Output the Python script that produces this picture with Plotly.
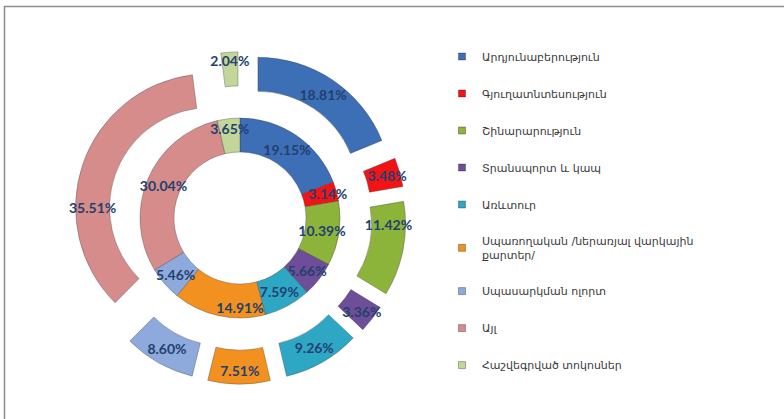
import plotly.graph_objects as go

W, H = 784, 419

categories = [
    'Արդյունաբերություն',
    'Գյուղատնտեսություն',
    'Շինարարություն',
    'Տրանսպորտ և կապ',
    'Առևտուր',
    'Սպառողական /ներառյալ վարկային<br>քարտեր/',
    'Սպասարկման ոլորտ',
    'Այլ',
    'Հաշվեգրված տոկոսներ',
]
outer_values = [18.81, 3.48, 11.42, 3.36, 9.26, 7.51, 8.60, 35.51, 2.04]
inner_values = [19.15, 3.14, 10.39, 5.66, 7.59, 14.91, 5.46, 30.04, 3.65]

colors = ['#3C6FB6', '#F21414', '#8CB33A', '#6E4E98', '#2EA7C4',
          '#F2911F', '#8EA9DB', '#D68C8A', '#C2D69A']

label_font = dict(family='Lato, Open Sans, sans-serif', size=14, color='#22406F')
slice_line = dict(color='rgba(60,60,60,0.35)', width=1)


def px_domain(cx, cy, half):
    '''pixel box (center, half size) -> paper domain'''
    return dict(x=[(cx - half) / W, (cx + half) / W],
                y=[(H - cy - half) / H, (H - cy + half) / H])


fig = go.Figure()

# outer ring, every slice pulled out
pull = 0.24
fig.add_trace(go.Pie(
    values=outer_values, labels=categories, sort=False, direction='clockwise',
    rotation=0, hole=0.746, pull=[pull] * len(outer_values),
    domain=px_domain(240, 218, 134 * (1 + pull)),
    marker=dict(colors=colors, line=slice_line),
    texttemplate='<b>%{value:.2f}%</b>', textposition='inside',
    insidetextorientation='horizontal', textfont=label_font,
    showlegend=False, hoverinfo='label+value',
))

# inner ring
fig.add_trace(go.Pie(
    values=inner_values, labels=categories, sort=False, direction='clockwise',
    rotation=0, hole=0.66,
    domain=px_domain(240, 218, 100),
    marker=dict(colors=colors, line=slice_line),
    texttemplate='<b>%{value:.2f}%</b>', textposition='inside',
    insidetextorientation='horizontal', textfont=label_font,
    showlegend=False, hoverinfo='label+value',
))

# legend entries (one group each so the gaps can be set)
for i, (name, col) in enumerate(zip(categories, colors)):
    fig.add_trace(go.Scatter(
        x=[None], y=[None], mode='markers', name=name, legendgroup=str(i),
        marker=dict(symbol='square', size=7, color=col,
                    line=dict(color='rgba(0,0,0,0.3)', width=1)),
    ))

fig.update_xaxes(visible=False)
fig.update_yaxes(visible=False)
fig.update_layout(
    width=W, height=H,
    margin=dict(l=0, r=0, t=0, b=0),
    paper_bgcolor='white', plot_bgcolor='white',
    uniformtext=dict(minsize=14, mode='show'),
    legend=dict(x=442 / W, y=1 - 42 / H, xanchor='left', yanchor='top',
                font=dict(family='DejaVu Sans', size=11, color='#3A3A3A'),
                tracegroupgap=18, itemclick=False, bgcolor='rgba(0,0,0,0)'),
    shapes=[dict(type='rect', xref='paper', yref='paper',
                 x0=4.5 / W, x1=1.05, y0=-0.05, y1=1 - 6.5 / H,
                 line=dict(color='#8C8C8C', width=1.5))],
)

fig.write_html('out.html', config={'displayModeBar': False},
               post_script="document.body.style.margin='0';")
